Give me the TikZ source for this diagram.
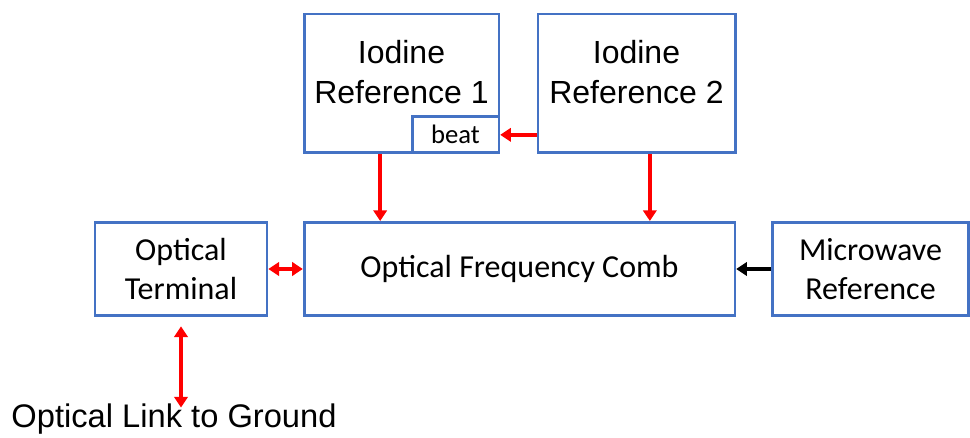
\documentclass[tikz,border=0pt]{standalone}
\usepackage{fontspec}
\setmainfont{Liberation Sans}
\newfontfamily\calibri{Carlito}
\usetikzlibrary{arrows.meta}
\definecolor{boxblue}{RGB}{68,114,196}
\begin{document}
\begin{tikzpicture}[x=0.75pt, y=-0.75pt,
	block/.style={draw=boxblue, line width=2pt, rectangle, align=center, inner sep=0pt},
	redarrow/.style={draw=red, line width=2.8pt, -{Triangle[width=10pt,length=8pt]}},
	redboth/.style={draw=red, line width=2.8pt, {Triangle[width=10pt,length=8pt]}-{Triangle[width=10pt,length=8pt]}},
	blackarrow/.style={draw=black, line width=2.8pt, -{Triangle[width=10pt,length=8pt]}}]
	\useasboundingbox (0,0) rectangle (970,438);
	
	%references on top
	\node[block, minimum width=146pt, minimum height=104pt, font=\fontsize{24}{30}\selectfont] (ref1) at (401.5, 83.5) {Iodine\\Reference 1\\[-13pt]};
	\node[block, minimum width=65pt, minimum height=27pt, anchor=south east, font=\calibri\fontsize{20}{24}\selectfont] (beat) at (ref1.south east) {beat};
	\node[block, minimum width=148pt, minimum height=104pt, font=\fontsize{24}{30}\selectfont] (ref2) at (636.5, 83.5) {Iodine\\Reference 2\\[-13pt]};
	
	%middle row
	\node[block, minimum width=323pt, minimum height=70pt, font=\calibri\fontsize{24}{29}\selectfont] (comb) at (519.5, 269) {Optical Frequency Comb};
	\node[block, minimum width=129pt, minimum height=70pt, font=\calibri\fontsize{24}{29}\selectfont] (term) at (181, 269) {Optical\\Terminal};
	\node[block, minimum width=147pt, minimum height=70pt, font=\calibri\fontsize{24}{29}\selectfont] (micro) at (870.5, 269) {Microwave\\Reference};
	
	%ground link
	\node[font=\fontsize{24.5}{29}\selectfont, inner sep=0pt] (link) at (174, 419) {Optical Link to Ground};
	
	%arrows
	\draw[redarrow] ([xshift=-16pt]ref1.south) -- ([xshift=-16pt]ref1.south |- comb.north);
	\draw[redarrow] ([xshift=10pt]ref2.south) -- ([xshift=10pt]ref2.south |- comb.north);
	\draw[redarrow] (ref2.west |- beat.east) -- (beat.east);
	\draw[redboth] (term.east) -- (comb.west);
	\draw[blackarrow] (micro.west) -- (comb.east);
	\draw[redboth, shorten >=4pt] ([yshift=-7pt]term.south) -- ([yshift=-7pt]term.south |- link.north);
\end{tikzpicture}
\end{document}
